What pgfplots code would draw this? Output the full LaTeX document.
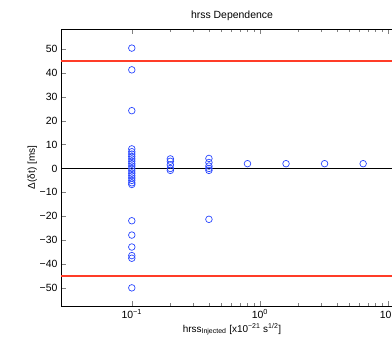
\documentclass[border=0pt]{standalone}
\usepackage{fontspec}
\setmainfont{Liberation Sans}
\usepackage{pgfplots}
\pgfplotsset{compat=1.18}
\definecolor{mkblue}{RGB}{40,70,255}
\definecolor{limred}{RGB}{255,60,40}
\begin{document}
\begin{tikzpicture}
\useasboundingbox (0,0) rectangle (392bp,349bp);
\begin{axis}[
  at={(61bp,43bp)}, anchor=south west,
  scale only axis, width=342bp, height=277bp,
  xmode=log, xmin=0.028, xmax=13.1,
  ymin=-57.6, ymax=58.4,
  ytick={-50,-40,-30,-20,-10,0,10,20,30,40,50},
  yticklabels={−50,−40,−30,−20,−10,0,10,20,30,40,50},
  xtick={0.1,1,10},
  xticklabels={10\textsuperscript{−1},10\textsuperscript{0},10\textsuperscript{1}},
  tick align=inside,
  minor tick length=3bp, major tick length=5bp,
  tick label style={font=\fontsize{10.5}{12}\selectfont},
  title={hrss Dependence},
  title style={font=\fontsize{10.5}{12}\selectfont, yshift=-1bp},
  xlabel={hrss\textsubscript{Injected} [x10\textsuperscript{−21} s\textsuperscript{1/2}]},
  ylabel={Δ(δt) [ms]},
  label style={font=\fontsize{10}{11}\selectfont},
  xlabel style={yshift=2bp},
  ylabel style={yshift=-4bp},
  axis line style={black, line width=0.6pt},
  clip=true,
]
\addplot[draw=black, mark=none, line width=0.6pt, forget plot] coordinates {(0.028,0) (13.1,0)};
\addplot[draw=limred, mark=none, line width=1.2pt, forget plot] coordinates {(0.028,45) (13.1,45)};
\addplot[draw=limred, mark=none, line width=1.2pt, forget plot] coordinates {(0.028,-45) (13.1,-45)};
\addplot[only marks, mark=o, mark size=3.3bp, mkblue, mark options={line width=0.7pt}] table {
x y
0.1 50.4
0.1 41.3
0.1 24.2
0.1 8.2
0.1 7
0.1 6
0.1 5
0.1 4
0.1 3
0.1 2
0.1 1
0.1 0
0.1 -1
0.1 -2
0.1 -3
0.1 -4
0.1 -5
0.1 -6
0.1 -6.7
0.1 -21.9
0.1 -27.9
0.1 -32.9
0.1 -36.5
0.1 -37.6
0.1 -50
0.2 4
0.2 3
0.2 1.5
0.2 0
0.2 -0.8
0.4 4.2
0.4 2.5
0.4 1
0.4 0
0.4 -0.8
0.4 -21.3
0.8 2
1.6 2
3.2 2
6.4 2
};
\end{axis}
\end{tikzpicture}
\end{document}
